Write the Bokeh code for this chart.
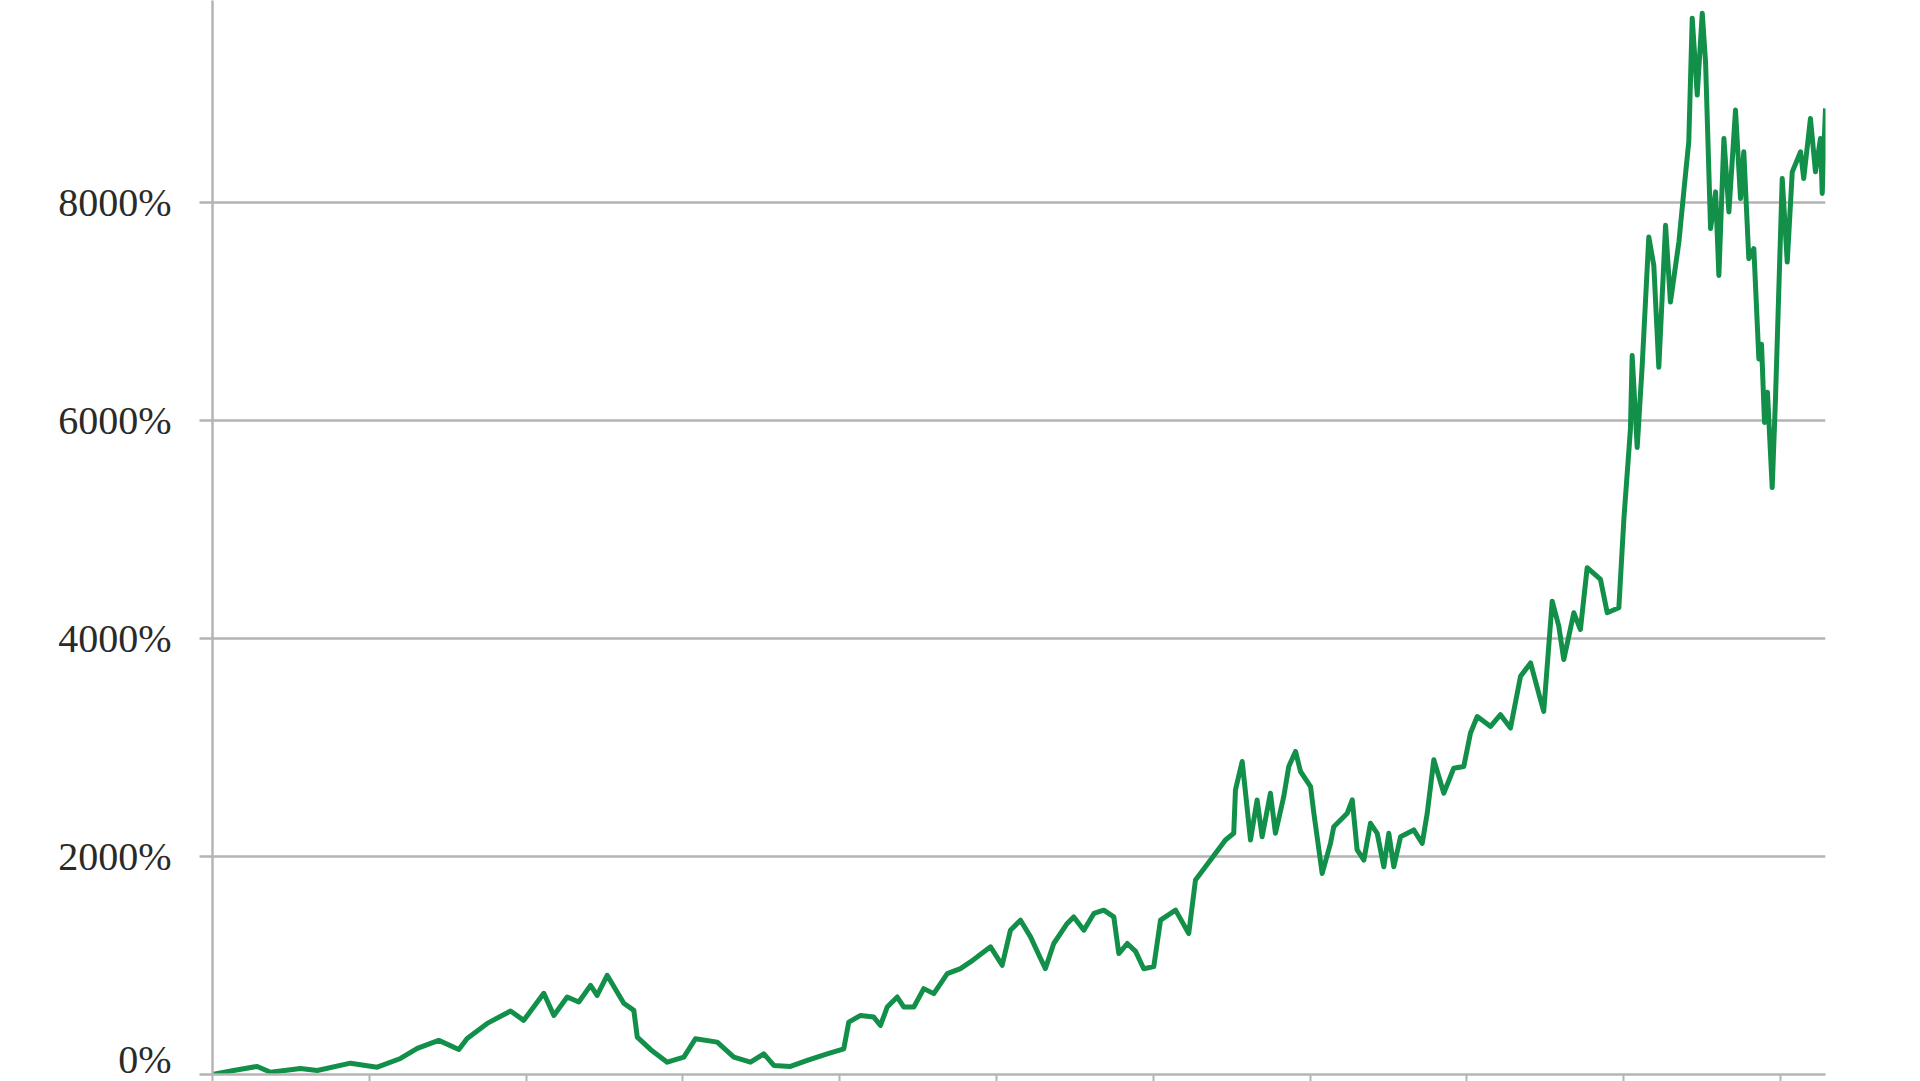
from bokeh.plotting import figure
from bokeh.models import Range1d, FixedTicker, ColumnDataSource
from bokeh.embed import file_html
from bokeh.resources import INLINE

# x in axis-tick units (one tick interval = 1), y = cumulative return in %
x_pos = [0.000, 0.134, 0.285, 0.370, 0.561, 0.668, 0.880, 1.050, 1.199, 1.306,
         1.443, 1.571, 1.624, 1.752, 1.901, 1.985, 2.113, 2.177, 2.262, 2.336,
         2.411, 2.453, 2.517, 2.623, 2.687, 2.709, 2.793, 2.900, 3.006, 3.080,
         3.219, 3.325, 3.431, 3.516, 3.580, 3.686, 3.793, 3.920, 4.026, 4.058,
         4.133, 4.217, 4.260, 4.303, 4.367, 4.409, 4.473, 4.536, 4.600, 4.686,
         4.770, 4.834, 4.962, 5.036, 5.089, 5.153, 5.217, 5.281, 5.312, 5.365,
         5.451, 5.493, 5.557, 5.621, 5.684, 5.748, 5.780, 5.834, 5.887, 5.939,
         6.003, 6.046, 6.142, 6.226, 6.269, 6.365, 6.460, 6.513, 6.524, 6.567,
         6.620, 6.662, 6.694, 6.747, 6.779, 6.832, 6.864, 6.907, 6.939, 7.003,
         7.024, 7.077, 7.130, 7.151, 7.237, 7.269, 7.300, 7.343, 7.385, 7.428,
         7.470, 7.502, 7.534, 7.577, 7.661, 7.715, 7.747, 7.789, 7.853, 7.916,
         7.980, 8.023, 8.066, 8.151, 8.214, 8.278, 8.342, 8.406, 8.469, 8.490,
         8.544, 8.586, 8.618, 8.682, 8.724, 8.767, 8.852, 8.895, 8.969, 9.001,
         9.043, 9.054, 9.086, 9.118, 9.160, 9.192, 9.224, 9.267, 9.298, 9.352,
         9.383, 9.415, 9.437, 9.469, 9.501, 9.522, 9.554, 9.586, 9.607, 9.639,
         9.671, 9.713, 9.745, 9.766, 9.798, 9.830, 9.862, 9.879, 9.898, 9.917,
         9.947, 9.968, 10.011, 10.043, 10.075, 10.128, 10.148, 10.191, 10.223, 10.255,
         10.266, 10.287]

returns_pct = [0, 37, 74, 20, 55, 37, 104, 67, 147, 239,
               313, 230, 331, 469, 582, 497, 745, 542, 711, 665,
               818, 726, 910, 653, 588, 343, 230, 113, 159, 328,
               297, 159, 113, 190, 83, 74, 129, 190, 236, 481,
               542, 527, 450, 619, 711, 619, 619, 788, 742, 926,
               972, 1033, 1171, 1002, 1324, 1416, 1263, 1064, 972, 1202,
               1386, 1446, 1324, 1478, 1508, 1446, 1110, 1202, 1130, 970,
               990, 1416, 1508, 1294, 1784, 1968, 2152, 2213, 2611, 2872,
               2152, 2519, 2182, 2581, 2213, 2550, 2826, 2964, 2780, 2642,
               2397, 1845, 2121, 2274, 2397, 2519, 2060, 1968, 2305, 2213,
               1906, 2213, 1906, 2182, 2244, 2121, 2397, 2887, 2581, 2810,
               2826, 3133, 3285, 3194, 3301, 3179, 3653, 3776, 3439, 3332,
               4343, 4113, 3807, 4236, 4083, 4650, 4542, 4236, 4282, 5094,
               5922, 6596, 5753, 6504, 7684, 7423, 6489, 7791, 7087, 7638,
               8098, 8558, 9692, 8987, 9738, 9293, 7761, 8098, 7331, 8588,
               7914, 8849, 8037, 8466, 7485, 7577, 6565, 6700, 5983, 6259,
               5385, 6198, 8221, 7454, 8282, 8466, 8221, 8772, 8282, 8588,
               8083, 8864]

y_ticks = [0, 2000, 4000, 6000, 8000]
y_tick_labels = ["0%", "2000%", "4000%", "6000%", "8000%"]
x_ticks = [0, 1, 2, 3, 4, 5, 6, 7, 8, 9, 10]

src = ColumnDataSource(data=dict(x=x_pos, y=returns_pct))

p = figure(width=1830, height=1081, output_backend="svg", toolbar_location=None,
           x_range=Range1d(0, 10.287), y_range=Range1d(0, 9854),
           min_border_left=212, min_border_top=0, min_border_right=5,
           min_border_bottom=0, background_fill_color="white",
           border_fill_color="white")
p.outline_line_color = None

grid_col = "#b4b4b4"
p.xgrid.grid_line_color = None
p.ygrid.grid_line_color = grid_col
p.ygrid.grid_line_width = 2.5

p.yaxis.ticker = FixedTicker(ticks=y_ticks)
p.yaxis.major_label_overrides = {t: l for t, l in zip(y_ticks, y_tick_labels)}
p.yaxis.axis_line_color = grid_col
p.yaxis.axis_line_width = 2.5
p.yaxis.major_tick_line_color = grid_col
p.yaxis.major_tick_line_width = 2.5
p.yaxis.major_tick_out = 13
p.yaxis.major_tick_in = 0
p.yaxis.minor_tick_line_color = None
p.yaxis.major_label_text_font = "Liberation Serif"
p.yaxis.major_label_text_font_size = "40px"
p.yaxis.major_label_text_color = "#2a2a2a"
p.yaxis.major_label_standoff = 28

p.xaxis.ticker = FixedTicker(ticks=x_ticks)
p.xaxis.major_label_overrides = {t: "" for t in x_ticks}
p.xaxis.major_label_text_font_size = "0px"
p.xaxis.major_label_standoff = 0
p.xaxis.axis_line_color = grid_col
p.xaxis.axis_line_width = 2.5
p.xaxis.major_tick_line_color = grid_col
p.xaxis.major_tick_line_width = 2
p.xaxis.major_tick_out = 7
p.xaxis.major_tick_in = 0
p.xaxis.minor_tick_line_color = None

p.line("x", "y", source=src, line_color="#12904a", line_width=5,
       line_join="round")

open("out.html", "w").write(file_html(p, INLINE))
